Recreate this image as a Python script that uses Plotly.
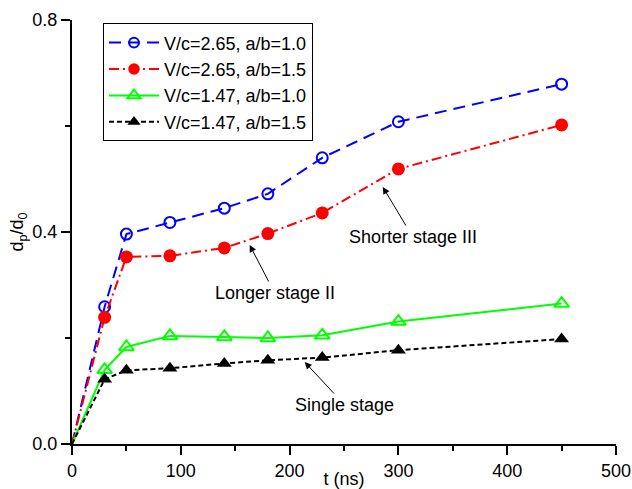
import plotly.graph_objects as go

t_ns = [0, 30, 50, 90, 140, 180, 230, 300, 450]
s_v265_ab10 = [0, 0.259, 0.396, 0.418, 0.445, 0.472, 0.540, 0.608, 0.679]
s_v265_ab15 = [0, 0.239, 0.353, 0.355, 0.370, 0.397, 0.436, 0.519, 0.602]
s_v147_ab10 = [0, 0.140, 0.183, 0.204, 0.202, 0.200, 0.205, 0.231, 0.265]
s_v147_ab15 = [0, 0.122, 0.139, 0.143, 0.152, 0.158, 0.163, 0.177, 0.198]
names = ["V/c=2.65, a/b=1.0", "V/c=2.65, a/b=1.5", "V/c=1.47, a/b=1.0", "V/c=1.47, a/b=1.5"]

FONT = "Liberation Sans, Arial, sans-serif"

def sizes(s):
    return [0] + [s] * (len(t_ns) - 1)

fig = go.Figure()
fig.add_trace(go.Scatter(
    x=t_ns, y=s_v265_ab10, name=names[0], mode="lines+markers",
    line=dict(color="#0000ff", width=2, dash="12px,7px"),
    marker=dict(symbol="circle-open", size=sizes(11), color="#0000ff", opacity=1,
                line=dict(width=2, color="#0000ff")),
))
fig.add_trace(go.Scatter(
    x=t_ns, y=s_v265_ab15, name=names[1], mode="lines+markers",
    line=dict(color="#ff0000", width=2, dash="10px,4px,2px,4px"),
    marker=dict(symbol="circle", size=sizes(13), color="#ff0000", opacity=1, line=dict(width=0)),
))
fig.add_trace(go.Scatter(
    x=t_ns, y=s_v147_ab10, name=names[2], mode="lines+markers",
    line=dict(color="#00ff00", width=2),
    marker=dict(symbol="triangle-up-open", size=sizes(13), color="#00ff00", opacity=1,
                line=dict(width=2, color="#00ff00")),
))
fig.add_trace(go.Scatter(
    x=t_ns, y=s_v147_ab15, name=names[3], mode="lines+markers",
    line=dict(color="#000000", width=2, dash="5px,3px"),
    marker=dict(symbol="triangle-up", size=sizes(13), color="#000000", opacity=1, line=dict(width=0)),
))

def px2x(px):
    return (px - 72.5) / 1.087

def px2y(py):
    return (444 - py) / 530.0

annos = [
    ("Longer stage II", (250, 245), (275, 293)),
    ("Shorter stage III", (383, 187), (413, 237)),
    ("Single stage", (305, 362), (345, 405)),
]
for txt, tip, tc in annos:
    fig.add_annotation(
        x=px2x(tip[0]), y=px2y(tip[1]), ax=px2x(tc[0]), ay=px2y(tc[1]),
        xref="x", yref="y", axref="x", ayref="y",
        text=txt, showarrow=True, arrowhead=2, arrowsize=1.4, arrowwidth=1,
        arrowcolor="black", font=dict(size=18, color="black", family=FONT),
    )

axis_common = dict(
    showgrid=False, zeroline=False, showline=True, linewidth=2, linecolor="black",
    ticks="outside", ticklen=9, tickwidth=2, tickcolor="black",
    tickfont=dict(size=18, color="black", family=FONT),
    mirror=False, automargin=False,
)
fig.update_xaxes(
    range=[0, 500], dtick=100, tick0=0,
    minor=dict(dtick=50, ticks="outside", ticklen=5, tickwidth=2, tickcolor="black"),
    title=dict(text="t (ns)", font=dict(size=18, color="black", family=FONT), standoff=0),
    **axis_common,
)
fig.update_yaxes(
    range=[0, 0.8], dtick=0.4, tick0=0, tickformat=".1f",
    minor=dict(dtick=0.2, ticks="outside", ticklen=5, tickwidth=2, tickcolor="black"),
    title=dict(text="d<sub>p</sub>/d<sub>0</sub>", font=dict(size=18, color="black", family=FONT), standoff=4),
    **axis_common,
)
fig.update_layout(
    width=632, height=489,
    margin=dict(l=72, r=16, t=20, b=45),
    paper_bgcolor="white", plot_bgcolor="white",
    font=dict(family=FONT, size=18, color="black"),
    showlegend=True,
    legend=dict(
        x=0.057, y=0.992, xanchor="left", yanchor="top",
        bordercolor="black", borderwidth=1, bgcolor="white",
        font=dict(size=18, color="black", family=FONT),
        tracegroupgap=0, itemsizing="trace", itemwidth=50,
    ),
)
fig.write_html("out.html")
